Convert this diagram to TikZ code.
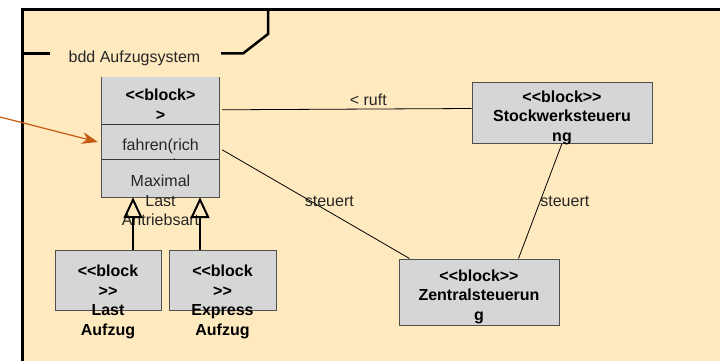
\documentclass[tikz,border=0pt]{standalone}
\usepackage{fontspec}
\setmainfont{Liberation Sans}[Ligatures=TeXOff]
\usetikzlibrary{arrows.meta}
\definecolor{rahmen}{RGB}{255,234,192}
\definecolor{blockgrau}{RGB}{214,214,214}
\definecolor{linie}{RGB}{80,80,80}
\definecolor{pfeil}{RGB}{197,90,17}

\begin{document}
\begin{tikzpicture}[x=1pt, y=-1pt, inner sep=0pt]
		\tikzstyle{every node}=[align=center, font=\fontsize{16}{19.5}\selectfont]
		\tikzstyle{block}=[draw=linie, fill=blockgrau, line width=1pt]
		\tikzstyle{titel}=[anchor=north, font=\fontsize{16}{19.5}\selectfont\bfseries]
		\tikzstyle{eintrag}=[anchor=north, text=black!85]
		\tikzstyle{assoz}=[line width=0.8pt]
		\tikzstyle{general}=[line width=2pt, -{Triangle[open, length=21pt, width=19pt]}]
			\useasboundingbox (0,0) rectangle (720,361);
			% Rahmen
			\fill[rahmen] (22,10) rectangle (720,361);
			\draw[line width=3pt] (22,361) -- (22,10) -- (720,10);
			\draw[line width=2.5pt] (22,53.5) -- (50,53.5);
			\draw[line width=2.5pt] (221,53.5) -- (243,53.5) -- (268,34) -- (268,10);
			\node[anchor=base, text=black!85] (rahmentitel) at (134.5,63) {bdd Aufzugsystem};
	
			% Bloecke
			\node[fill=blockgrau, minimum width=117pt, minimum height=120pt] (aufzug) at (160.5,137) {};
			\node[block, minimum width=106pt, minimum height=60pt] (last) at (108,280) {};
			\node[block, minimum width=107pt, minimum height=60pt] (express) at (222.5,280) {};
			\node[block, minimum width=180pt, minimum height=61pt] (stockwerk) at (562,112.5) {};
			\node[block, minimum width=160pt, minimum height=66pt] (zentral) at (479,292) {};
	
			\draw[linie, line width=1pt] (aufzug.north west) -- (aufzug.south west) -- (aufzug.south east) -- (aufzug.north east);
			\coordinate (trenn1) at ([yshift=-48pt]aufzug.north west);
			\coordinate (trenn2) at ([yshift=-83pt]aufzug.north west);
			\draw[linie!70!black, line width=1.3pt] (trenn1) -- (trenn1 -| aufzug.east);
			\draw[linie!70!black, line width=1.3pt] (trenn2) -- (trenn2 -| aufzug.east);
	
			\node[titel] (kopf) at (160.5,89) {<<block>\\>};
			\begin{scope}
				\clip (trenn1) rectangle (trenn2 -| aufzug.east);
				\node[eintrag] (methode) at (160.5,139) {fahren(rich\\tung)};
			\end{scope}
			\node[eintrag] (attribute) at (160.5,175) {Maximal\\Last\\Antriebsart};
			\node[titel] (lasttext) at (108,265) {<<block\\>>\\Last\\Aufzug};
			\node[titel] (expresstext) at (222.5,265) {<<block\\>>\\Express\\Aufzug};
			\node[titel] (stockwerktext) at (562,90.5) {<<block>>\\Stockwerksteueru\\ng};
			\node[titel] (zentraltext) at (479,269.5) {<<block>>\\Zentralsteuerun\\g};
	
			% Beziehungen
			\draw[assoz] ([xshift=3pt, yshift=-33pt]aufzug.north east) -- ([yshift=4pt]stockwerk.west) node[pos=0.586, anchor=base, yshift=4pt, text=black!85] {< ruft};
			\draw[assoz] ([xshift=3pt, yshift=-73pt]aufzug.north east) -- ([xshift=11pt]zentral.north west) node[pos=0.572, anchor=base, yshift=5pt, text=black!85] {steuert};
			\draw[assoz] (stockwerk.south) -- ([xshift=-41pt]zentral.north east) node[pos=0.552, anchor=base west, xshift=2pt, text=black!85] {steuert};
	
			\coordinate (genlast) at ([xshift=25pt]last.north);
			\coordinate (genexpress) at ([xshift=-22.5pt]express.north);
			\draw[general] (genlast) -- (genlast |- aufzug.south);
			\draw[general] (genexpress) -- (genexpress |- aufzug.south);
	
			\coordinate (hinweis) at (0,117);
			\draw[pfeil, line width=1.2pt, -{Stealth[length=16pt, width=12pt]}] (hinweis) -- ([xshift=-4pt, yshift=-5pt]aufzug.west);
		\end{tikzpicture}
\end{document}
